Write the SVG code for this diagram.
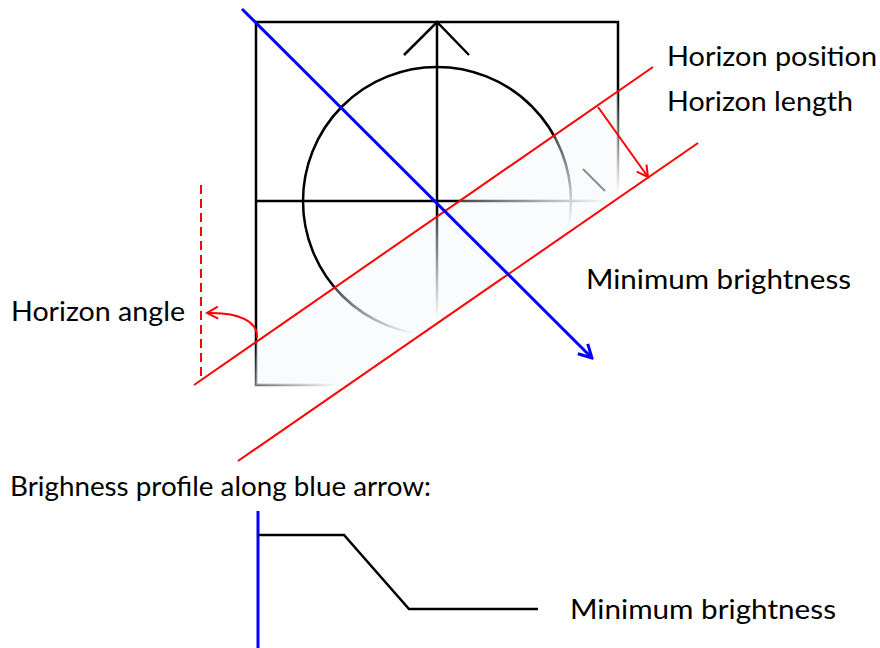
<svg xmlns="http://www.w3.org/2000/svg" width="880" height="648" viewBox="0 0 880 648">
  <style>
    .blk { fill: none; stroke: #000; stroke-width: 2.5; }
    .red { fill: none; stroke: #ff0000; stroke-width: 2; }
    .blue { fill: none; stroke: #0000ff; stroke-width: 3; }
    .lbl { font-family: Lato, "Open Sans", "Noto Sans", sans-serif; font-size: 27px; fill: #000; }
  </style>
  <defs>
    <marker id="arrRed" viewBox="-12 -8 14 16" markerWidth="14" markerHeight="16" refX="0" refY="0" orient="auto" markerUnits="userSpaceOnUse">
      <path d="M-11,-6 L0,0 L-11,6" fill="none" stroke="#ff0000" stroke-width="2"/>
    </marker>
    <marker id="arrBlue" viewBox="-14 -9 16 18" markerWidth="16" markerHeight="18" refX="0" refY="0" orient="auto" markerUnits="userSpaceOnUse">
      <path d="M-13,-7 L0,0 L-13,7" fill="none" stroke="#0000ff" stroke-width="3"/>
    </marker>
    <linearGradient id="fade" gradientUnits="userSpaceOnUse" x1="437" y1="217" x2="484" y2="285">
      <stop offset="0" stop-color="#fff" stop-opacity="0"/>
      <stop offset="1" stop-color="#fff" stop-opacity="1"/>
    </linearGradient>
    <clipPath id="sq">
      <rect x="256" y="22" width="362" height="363"/>
    </clipPath>
  </defs>

  <g id="frame">
    <rect class="blk" x="256" y="22" width="362" height="363"/>
    <line class="blk" x1="256" y1="201" x2="618" y2="201"/>
    <line class="blk" x1="437" y1="22" x2="437" y2="385"/>
    <polyline class="blk" points="404,55 437,22 469,55"/>
    <circle class="blk" cx="437" cy="201" r="134"/>
  </g>

  <g id="fade-overlay">
    <polygon points="180,394.7 700,34.4 720,34.4 720,490 180,490" fill="url(#fade)"/>
    <polygon clip-path="url(#sq)" points="194,385 653,67 700,67 700,143 238,461 180,461" fill="#eef1f8" opacity="0.3"/>
    <line x1="583" y1="169" x2="605" y2="191" stroke="#8a8a8a" stroke-width="2"/>
  </g>

  <g id="connectors">
    <line id="horizon-upper" class="red" x1="194" y1="385" x2="653" y2="67"/>
    <line id="horizon-lower" class="red" x1="238" y1="461" x2="698" y2="143"/>
    <line id="horizon-length-arrow" class="red" x1="598" y1="107" x2="648" y2="177" marker-end="url(#arrRed)"/>
    <line id="vertical-ref" class="red" x1="201" y1="185" x2="201" y2="381" stroke-dasharray="9,5"/>
    <path id="angle-arrow" class="red" d="M257,338 C258,322 240,312 207,313" marker-end="url(#arrRed)"/>
    <line id="blue-arrow" class="blue" x1="242" y1="9" x2="592" y2="358" marker-end="url(#arrBlue)"/>
    <line id="profile-axis" class="blue" x1="258" y1="511" x2="258" y2="648"/>
    <polyline id="profile" class="blk" points="258,535 344,535 409,609 538,609"/>
  </g>

  <g id="label-horizon-position"><text class="lbl" x="667" y="66" textLength="210" lengthAdjust="spacingAndGlyphs">Horizon position</text></g>
  <g id="label-horizon-length"><text class="lbl" x="667" y="111" textLength="186" lengthAdjust="spacingAndGlyphs">Horizon length</text></g>
  <g id="label-min-brightness-1"><text class="lbl" x="586" y="289" textLength="265" lengthAdjust="spacingAndGlyphs">Minimum brightness</text></g>
  <g id="label-horizon-angle"><text class="lbl" x="11" y="321" textLength="174" lengthAdjust="spacingAndGlyphs">Horizon angle</text></g>
  <g id="label-profile"><text class="lbl" x="10" y="496" textLength="421" lengthAdjust="spacingAndGlyphs">Brighness profile along blue arrow:</text></g>
  <g id="label-min-brightness-2"><text class="lbl" x="570" y="619" textLength="266" lengthAdjust="spacingAndGlyphs">Minimum brightness</text></g>
</svg>
